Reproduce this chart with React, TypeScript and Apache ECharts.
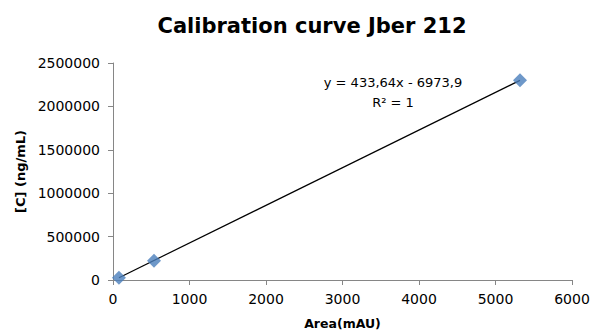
import React, { useEffect, useRef } from "react";
import * as echarts from "echarts";

const areas = [78, 536, 5320];
const concentrations = [26000, 222000, 2300000];
const slope = 433.64;
const intercept = -6973.9;
const equationLines = ["y = 433,64x - 6973,9", "R² = 1"];
const xTicks = [0, 1000, 2000, 3000, 4000, 5000, 6000];
const yTicks = [0, 500000, 1000000, 1500000, 2000000, 2500000];

export default function App() {
  const ref = useRef<HTMLDivElement>(null);
  useEffect(() => {
    if (!ref.current) return;
    const chart = echarts.init(ref.current, null, { renderer: "svg" });
    const xMin = Math.min(...areas);
    const xMax = Math.max(...areas);
    const trend = [
      [xMin, slope * xMin + intercept],
      [xMax, slope * xMax + intercept],
    ];
    const font = "'DejaVu Sans', sans-serif";
    chart.setOption({
      animation: false,
      backgroundColor: "#ffffff",
      title: {
        text: "Calibration curve Jber 212",
        left: 307,
        textAlign: "center",
        top: 10,
        textStyle: { fontFamily: font, fontWeight: "bold", fontSize: 21, color: "#000" },
      },
      grid: {
        left: 113,
        right: 21,
        top: 63,
        bottom: 53,
        containLabel: false,
        outerBoundsMode: "none",
      },
      xAxis: {
        type: "value",
        min: xTicks[0],
        max: xTicks[xTicks.length - 1],
        interval: 1000,
        name: "Area(mAU)",
        nameLocation: "middle",
        nameGap: 37,
        nameTextStyle: { fontFamily: font, fontWeight: "bold", fontSize: 12.5, color: "#000" },
        axisLine: { lineStyle: { color: "#868686", width: 1 } },
        axisTick: { show: true, length: 5, inside: false, lineStyle: { color: "#868686" } },
        axisLabel: { fontFamily: font, fontSize: 14, color: "#000", margin: 12, formatter: (v: number) => String(v) },
        splitLine: { show: false },
      },
      yAxis: {
        type: "value",
        min: yTicks[0],
        max: yTicks[yTicks.length - 1],
        interval: 500000,
        name: "[C] (ng/mL)",
        nameLocation: "middle",
        nameGap: 82,
        nameRotate: 90,
        nameTextStyle: { fontFamily: font, fontWeight: "bold", fontSize: 13, color: "#000" },
        axisLine: { show: true, lineStyle: { color: "#868686", width: 1 } },
        axisTick: { show: true, length: 5, inside: false, lineStyle: { color: "#868686" } },
        axisLabel: { fontFamily: font, fontSize: 14, color: "#000", margin: 13, formatter: (v: number) => String(v) },
        splitLine: { show: false },
      },
      series: [
        {
          type: "line",
          data: trend,
          symbol: "none",
          lineStyle: { color: "#000", width: 1.2 },
          silent: true,
          z: 2,
        },
        {
          type: "scatter",
          data: areas.map((a, i) => [a, concentrations[i]]),
          symbol: "diamond",
          symbolSize: 14,
          itemStyle: { color: "#4a7ebb" },
          z: 3,
        },
      ],
      graphic: equationLines.map((line, i) => ({
        type: "text",
        x: 393,
        y: 82 + i * 20,
        style: {
          text: line,
          fontFamily: font,
          fontSize: 13,
          fill: "#000",
          align: "center",
          verticalAlign: "middle",
        },
      })),
    });
    return () => chart.dispose();
  }, []);
  return (
    <div
      ref={ref}
      style={{ position: "fixed", left: 0, top: 0, width: 593, height: 333 }}
    />
  );
}
